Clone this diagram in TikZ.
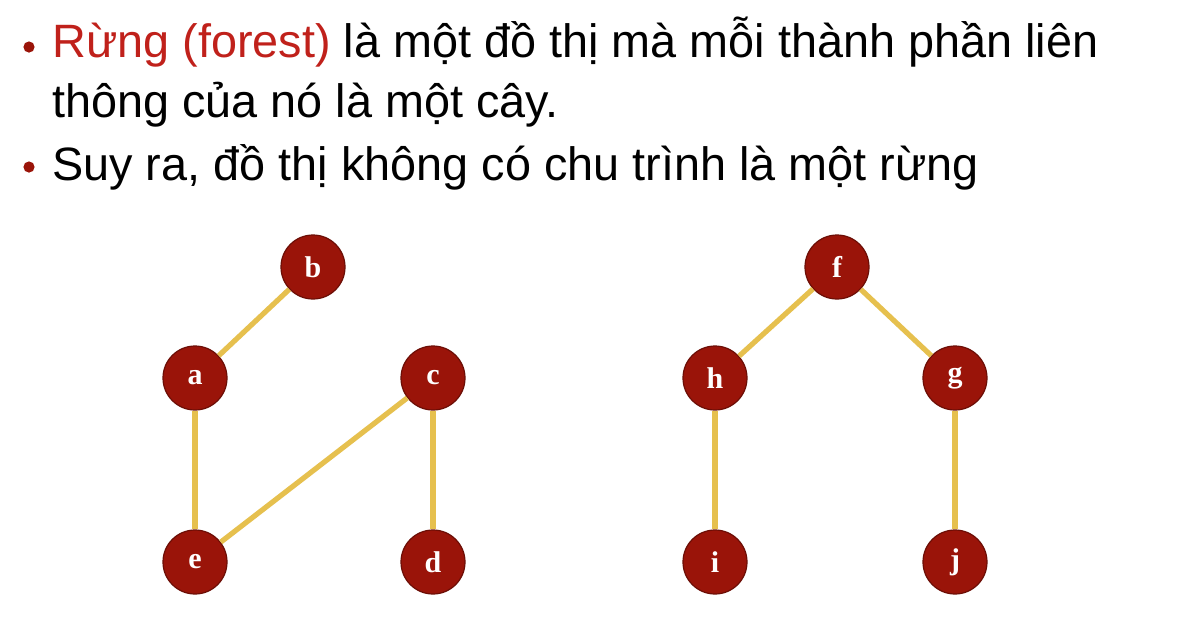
\documentclass[tikz,border=0pt]{standalone}
\usepackage{fontspec}
\setmainfont{Liberation Sans}
\newfontfamily\labelfont{Liberation Serif}
\usepackage{tikz}

\definecolor{nodered}{HTML}{9A1409}
\definecolor{textred}{HTML}{C0211B}
\definecolor{edgeyellow}{HTML}{E6C04E}

\tikzset{
  vertex/.style={circle, fill=nodered, draw=nodered!70!black, line width=0.6pt,
    minimum size=32pt, inner sep=0pt, text=white,
    font=\labelfont\bfseries\fontsize{15}{15}\selectfont},
  edge/.style={draw=edgeyellow, line width=2.6pt},
  line/.style={anchor=base west, inner sep=0pt, font=\fontsize{23.4}{28}\selectfont}
}

\begin{document}
\begin{tikzpicture}[x=0.5pt, y=-0.5pt]
  \useasboundingbox[fill=white] (0,0) rectangle (1189,633);

  % the two bullets
  \fill[color=nodered] (29,47) circle (2.8pt);
  \fill[color=nodered] (29,167) circle (2.8pt);
  \node[line] (l1) at (52,57) {\textcolor{textred}{Rừng (forest)} là một đồ thị mà mỗi thành phần liên};
  \node[line] (l2) at (52,117) {thông của nó là một cây.};
  \node[line] (l3) at (52,180) {Suy ra, đồ thị không có chu trình là một rừng};

  % first tree
  \node[vertex] (b) at (313,267) {b};
  \node[vertex] (a) at (195,378) {a};
  \node[vertex] (c) at (433,378) {c};
  \node[vertex] (e) at (195,562) {e};
  \node[vertex] (d) at (433,562) {d};

  % second tree
  \node[vertex] (f) at (837,267) {f};
  \node[vertex] (h) at (715,378) {h};
  \node[vertex] (g) at (955,378) {g};
  \node[vertex] (i) at (715,562) {i};
  \node[vertex] (j) at (955,562) {j};

  \draw[edge] (b) -- (a);
  \draw[edge] (a) -- (e);
  \draw[edge] (e) -- (c);
  \draw[edge] (c) -- (d);
  \draw[edge] (f) -- (h);
  \draw[edge] (f) -- (g);
  \draw[edge] (h) -- (i);
  \draw[edge] (g) -- (j);
\end{tikzpicture}
\end{document}
